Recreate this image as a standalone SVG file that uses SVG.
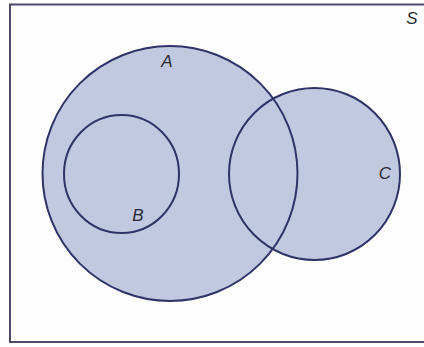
<svg xmlns="http://www.w3.org/2000/svg" width="424" height="347" viewBox="0 0 424 347">
<style>
.set{fill:#c1c9e0;stroke:none}
.edge{fill:none;stroke:#2e3468;stroke-width:2}
.lbl{font-family:"Liberation Sans",Arial,sans-serif;font-style:italic;font-size:17px;fill:#2a2a33;text-anchor:middle}
</style>
<rect x="0" y="0" width="424" height="347" fill="#ffffff"/>
<rect id="S-box" x="10" y="4.5" width="420" height="337.5" fill="#fdfdfd" stroke="#4d4c68" stroke-width="2"/>
<g id="fills">
<circle class="set" cx="170" cy="173.5" r="127.5"/>
<ellipse class="set" cx="314.5" cy="174" rx="85.5" ry="86"/>
</g>
<g id="A"><circle class="edge" cx="170" cy="173.5" r="127.5"/><text class="lbl" x="167" y="67">A</text></g>
<g id="B"><ellipse class="edge" cx="121.5" cy="174" rx="57.5" ry="59"/><text class="lbl" x="138" y="221">B</text></g>
<g id="C"><ellipse class="edge" cx="314.5" cy="174" rx="85.5" ry="86"/><text class="lbl" x="385" y="179">C</text></g>
<g id="S"><text class="lbl" x="412" y="24">S</text></g>
<g id="connectors"></g>
</svg>
